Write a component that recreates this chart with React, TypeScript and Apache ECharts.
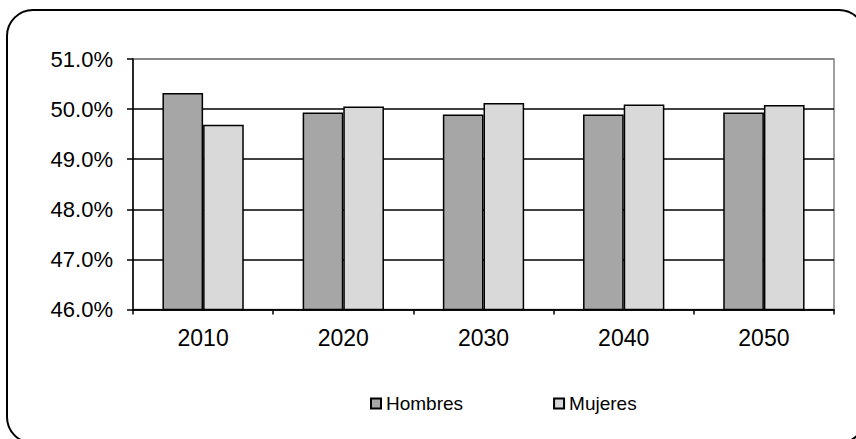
import React, { useEffect, useRef } from "react";
import * as echarts from "echarts";

const categories = ["2010", "2020", "2030", "2040", "2050"];
const hombres = [50.32, 49.93, 49.89, 49.89, 49.93];
const mujeres = [49.69, 50.05, 50.12, 50.09, 50.08];
const seriesNames = ["Hombres", "Mujeres"];

const FONT = "'Liberation Sans', Arial, sans-serif";

export default function App() {
  const ref = useRef<HTMLDivElement>(null);
  useEffect(() => {
    if (!ref.current) return;
    const chart = echarts.init(ref.current, undefined, { renderer: "svg" });
    chart.setOption({
      animation: false,
      backgroundColor: "#ffffff",
      graphic: [
        {
          type: "rect",
          shape: { x: 7, y: 10, width: 858, height: 433, r: 26 },
          style: { fill: "none", stroke: "#000", lineWidth: 2 },
          z: -1,
        },
      ],
      grid: {
        left: 133,
        right: 22,
        top: 59,
        bottom: 129.5,
        show: true,
        borderColor: "#808080",
        borderWidth: 1.5,
      },
      legend: {
        data: seriesNames,
        left: 365,
        top: 389,
        icon: "rect",
        itemWidth: 10,
        itemHeight: 10,
        itemGap: 90,
        textStyle: { fontFamily: FONT, fontSize: 19, color: "#000" },
      },
      xAxis: {
        type: "category",
        data: categories,
        axisLine: { lineStyle: { color: "#000", width: 1.5 } },
        axisTick: { show: true, length: 5, lineStyle: { color: "#000", width: 1.5 } },
        axisLabel: { fontFamily: FONT, fontSize: 23, color: "#000", margin: 17 },
      },
      yAxis: {
        type: "value",
        min: 46,
        max: 51,
        interval: 1,
        axisLine: { show: true, lineStyle: { color: "#000", width: 1.5 } },
        axisTick: { show: true, length: 6, lineStyle: { color: "#000", width: 1.5 } },
        axisLabel: {
          fontFamily: FONT,
          fontSize: 22,
          color: "#000",
          margin: 20,
          padding: [4, 0, 0, 0],
          formatter: (v: number) => v.toFixed(1) + "%",
        },
        splitLine: {
          show: true,
          lineStyle: { color: ["#000", "#000", "#000", "#000", "#000", "#808080"], width: 1.5 },
        },
      },
      series: [
        {
          name: seriesNames[0],
          type: "bar",
          data: hombres,
          barGap: "0%",
          barCategoryGap: "42%",
          itemStyle: { color: "#a6a6a6", borderColor: "#000", borderWidth: 1.5 },
        },
        {
          name: seriesNames[1],
          type: "bar",
          data: mujeres,
          barGap: "0%",
          barCategoryGap: "42%",
          itemStyle: { color: "#d9d9d9", borderColor: "#000", borderWidth: 1.5 },
        },
      ],
    });
    return () => chart.dispose();
  }, []);
  return (
    <div
      ref={ref}
      style={{ position: "fixed", left: 0, top: 0, width: 856, height: 439 }}
    />
  );
}
